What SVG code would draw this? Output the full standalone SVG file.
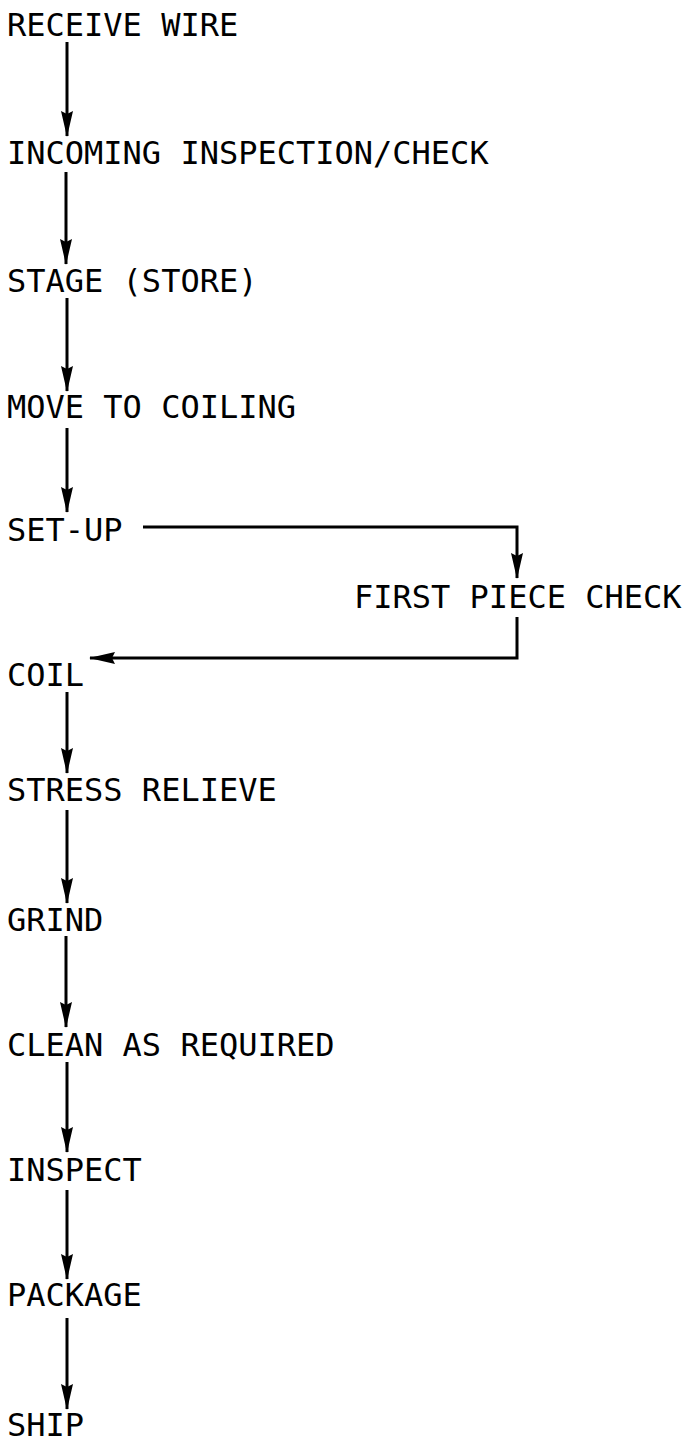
<svg xmlns="http://www.w3.org/2000/svg" width="689" height="1442" viewBox="0 0 689 1442">
<style>
text{font-family:"DejaVu Sans Mono","Liberation Mono",monospace;font-size:32px;fill:#000}
.c{fill:none;stroke:#000;stroke-width:3}
</style>
<defs>
<marker id="ah" markerUnits="userSpaceOnUse" markerWidth="26" markerHeight="14" refX="25" refY="7" orient="auto" viewBox="0 0 26 14">
<path d="M0,1 L26,7 L0,13 L3,7 Z" fill="#000"/>
</marker>
</defs>
<rect width="689" height="1442" fill="#fff"/>
<g id="n1"><text x="7" y="36">RECEIVE WIRE</text></g>
<g id="n2"><text x="7" y="164">INCOMING INSPECTION/CHECK</text></g>
<g id="n3"><text x="7" y="292">STAGE (STORE)</text></g>
<g id="n4"><text x="7" y="418">MOVE TO COILING</text></g>
<g id="n5"><text x="7" y="541">SET-UP</text></g>
<g id="n6"><text x="354" y="608">FIRST PIECE CHECK</text></g>
<g id="n7"><text x="7" y="686">COIL</text></g>
<g id="n8"><text x="7" y="801">STRESS RELIEVE</text></g>
<g id="n9"><text x="7" y="931">GRIND</text></g>
<g id="n10"><text x="7" y="1056">CLEAN AS REQUIRED</text></g>
<g id="n11"><text x="7" y="1181">INSPECT</text></g>
<g id="n12"><text x="7" y="1306">PACKAGE</text></g>
<g id="n13"><text x="7" y="1436">SHIP</text></g>
<g id="connectors">
<path class="c" d="M67,42 V136" marker-end="url(#ah)"/>
<path class="c" d="M66,172 V264" marker-end="url(#ah)"/>
<path class="c" d="M67,298 V391" marker-end="url(#ah)"/>
<path class="c" d="M67,428 V512" marker-end="url(#ah)"/>
<path class="c" d="M143,527 H517 V578" marker-end="url(#ah)"/>
<path class="c" d="M517,617 V658 H90" marker-end="url(#ah)"/>
<path class="c" d="M67,692 V773" marker-end="url(#ah)"/>
<path class="c" d="M67,810 V903" marker-end="url(#ah)"/>
<path class="c" d="M66,936 V1027" marker-end="url(#ah)"/>
<path class="c" d="M67,1062 V1152" marker-end="url(#ah)"/>
<path class="c" d="M67,1190 V1279" marker-end="url(#ah)"/>
<path class="c" d="M67,1318 V1409" marker-end="url(#ah)"/>
</g>
</svg>
